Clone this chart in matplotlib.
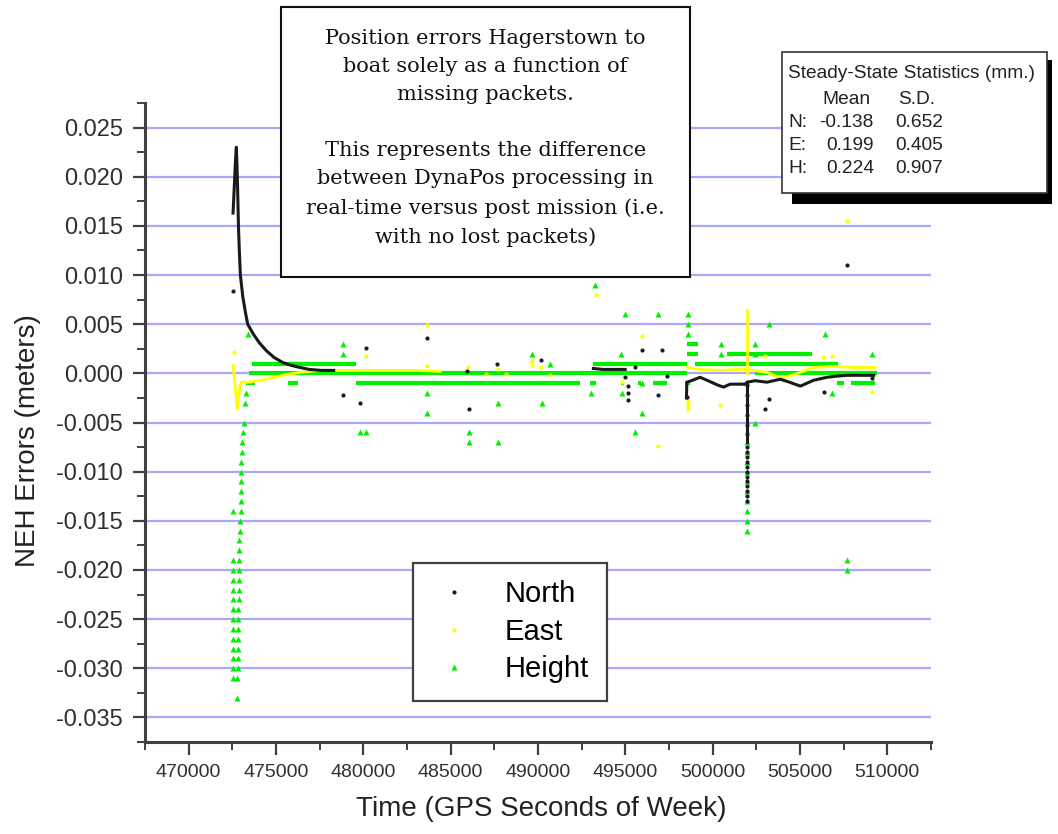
import matplotlib
matplotlib.use('Agg')
import matplotlib.pyplot as plt
import matplotlib.patches as mpatches
from matplotlib.lines import Line2D
from matplotlib.ticker import MultipleLocator, FormatStrFormatter
from matplotlib import font_manager

# ---- North (black) ----
# dense stretches, drawn as lines
n_seg1_x = [472540, 472600, 472650, 472700, 472730, 472760, 472800, 472850, 472900, 472960,
            473100, 473250, 473380, 473700, 474050, 474450, 474900, 475390, 475900, 476360,
            476900, 477600, 478300]
n_seg1_y = [0.0163, 0.0185, 0.0205, 0.0222, 0.0230, 0.0215, 0.0190, 0.0150, 0.0125, 0.0100,
            0.0078, 0.0062, 0.0050, 0.0040, 0.0031, 0.0023, 0.0016, 0.0011, 0.0008, 0.0006,
            0.0004, 0.0003, 0.0003]
n_seg2_x = [493170, 493700, 494300, 494990]
n_seg2_y = [0.0005, 0.0004, 0.0004, 0.0004]
n_seg3_x = [498500, 498520, 498700, 499280, 499800, 500300, 500620, 501000, 501500, 501860,
            501960, 502440, 503110, 503870, 504400, 505020, 505780, 506550, 507000, 507690,
            508500, 509220]
n_seg3_y = [-0.0025, -0.0009, -0.0008, -0.0004, -0.0008, -0.0012, -0.0014, -0.0011, -0.0011, -0.0011,
            -0.0009, -0.00075, -0.0009, -0.0006, -0.0009, -0.0013, -0.0007, -0.0004, -0.0003, -0.0002,
            -0.0002, -0.0002]
n_spike_x = [501960, 501960]
n_spike_y = [-0.0010, -0.0070]
# isolated epochs
n_pts_x = [472560, 480130, 483620, 478850, 479800, 486060, 487670, 490170, 485960, 494990,
           495150, 495150, 495150, 495940, 497120, 495560, 497400, 496850, 498520, 503200,
           503010, 506400, 509120, 507710,
           501960, 501960, 501960, 501960, 501960, 501960, 501960, 501960, 501960, 501960,
           501960, 501960]
n_pts_y = [0.0084, 0.0026, 0.0036, -0.0022, -0.0030, -0.0036, 0.0010, 0.0014, 0.0002, -0.0004,
           -0.0013, -0.0020, -0.0027, 0.0024, 0.0024, 0.0006, -0.0003, -0.0022, -0.0024, -0.0026,
           -0.0036, -0.0019, -0.0005, 0.0110,
           -0.0075, -0.0080, -0.0085, -0.0090, -0.0095, -0.0100, -0.0105, -0.0110, -0.0115, -0.0120,
           -0.0125, -0.0130]

# ---- East (yellow) ----
e_seg1_x = [472540, 472620, 472700, 472760, 472790, 472850, 472950, 473020, 473500, 474450,
            475400, 476360, 477500, 479000, 481000, 483000, 484400]
e_seg1_y = [0.0008, -0.0005, -0.0020, -0.0033, -0.0036, -0.0025, -0.0012, -0.0009, -0.0009, -0.0006,
            -0.0002, 0.0001, 0.0003, 0.0003, 0.0003, 0.0003, 0.0002]
e_seg3_x = [498560, 499200, 500440, 501500, 501960, 503110, 503900, 504500, 505020, 505780,
            506900, 508000, 509300]
e_seg3_y = [0.0006, 0.0004, 0.0003, 0.0004, 0.0004, 0.0001, -0.0005, -0.0002, 0.0001, 0.0006,
            0.0007, 0.0006, 0.0006]
e_spike_x = [501960, 501960]
e_spike_y = [0.0064, 0.0000]
e_pts_x = [472600, 483620, 483620, 480180, 486010, 487730, 489670, 489670, 490170, 487000,
           488150, 490690, 494790, 493330, 495980, 496850, 498560, 498560, 498560, 498560,
           500440, 503010, 506340, 506820, 509120, 507710]
e_pts_y = [0.0022, 0.0049, 0.0007, 0.0018, 0.0006, 0.00045, 0.0013, 0.0008, 0.0006, -0.0001,
           -0.0001, -0.0002, -0.0009, 0.0080, 0.0038, -0.0074, -0.0027, -0.0030, -0.0033, -0.0036,
           -0.0032, 0.0018, 0.0017, 0.0018, -0.0019, 0.0155]

# ---- Height (green), 1 mm steps ----
h_band_y = [0.001, 0.000, -0.001, -0.001, -0.001, 0.001, 0.001, 0.002, 0.002, 0.003,
            0.000, -0.001, -0.001, -0.001, -0.001, -0.001, -0.001, -0.001]
h_band_x0 = [473600, 473450, 473300, 475700, 479600, 493170, 498980, 500810, 498520, 498520,
             502440, 493000, 494740, 495740, 496600, 498440, 507140, 507900]
h_band_x1 = [479600, 498520, 473800, 476270, 492400, 498520, 507200, 505680, 499170, 499170,
             509400, 493300, 494900, 495900, 497400, 498700, 507520, 509300]
h_pts_x = [473400, 473280, 473200, 473170, 473120, 473080, 473050, 473020, 473000, 472990,
           473020, 472990, 472970, 472950, 472920, 472910, 472900, 472890, 472880, 472880,
           472870, 472860, 472850, 472840, 472830, 472820, 472810, 472800, 472800, 472790,
           472790,
           472540, 472540, 472540, 472540, 472540, 472540, 472540, 472540, 472540, 472540,
           472540, 472540, 472540, 472540,
           501960, 501960, 501960, 501960, 501960, 501960, 501960, 501960, 501960, 501960,
           501960, 501960, 501960, 501960, 501960, 501960,
           478850, 478850, 479800, 480180, 483620, 483620, 486060, 486060, 487690, 487690,
           489670, 490690, 490210, 493270, 494990, 494740, 493020, 494790, 495940, 495940,
           495560, 496890, 498560, 498560, 498560, 500460, 500460, 502440, 502440, 502440,
           503200, 506450, 509120, 506820, 507710, 507710]
h_pts_y = [0.004, -0.002, -0.003, -0.005, -0.006, -0.007, -0.008, -0.009, -0.010, -0.011,
           -0.012, -0.013, -0.014, -0.015, -0.016, -0.017, -0.018, -0.019, -0.020, -0.021,
           -0.022, -0.023, -0.024, -0.025, -0.026, -0.027, -0.028, -0.029, -0.030, -0.031,
           -0.033,
           -0.014, -0.019, -0.020, -0.021, -0.022, -0.023, -0.024, -0.025, -0.026, -0.027,
           -0.028, -0.029, -0.030, -0.031,
           -0.001, -0.002, -0.003, -0.004, -0.005, -0.006, -0.007, -0.008, -0.009, -0.010,
           -0.011, -0.012, -0.013, -0.014, -0.015, -0.016,
           0.003, 0.002, -0.006, -0.006, -0.002, -0.004, -0.006, -0.007, -0.003, -0.007,
           0.002, 0.001, -0.003, 0.009, 0.006, 0.002, -0.002, -0.002, -0.001, -0.004,
           -0.006, 0.006, 0.006, 0.005, 0.004, 0.003, 0.002, 0.003, 0.002, -0.005,
           0.005, 0.004, 0.002, -0.002, -0.019, -0.020]

series_names = ['North', 'East', 'Height']
stat_rows = ['N:', 'E:', 'H:']
stat_mean = ['-0.138', '0.199', '0.224']
stat_sd = ['0.652', '0.405', '0.907']

note = ("Position errors Hagerstown to\nboat solely as a function of\nmissing packets.\n\n"
        "This represents the difference\nbetween DynaPos processing in\n"
        "real-time versus post mission (i.e.\nwith no lost packets)")

BLACK = '#1a1a1a'
YELLOW = '#ffff00'
GREEN = '#00f000'
AXC = '#404040'

W, H = 1058, 834


def fpx(x, y):
    return x / W, 1 - y / H


names = {f.name for f in font_manager.fontManager.ttflist}
narrow = 'Liberation Sans Narrow' if 'Liberation Sans Narrow' in names else 'Liberation Sans'
xtick_size = 16 if narrow == 'Liberation Sans Narrow' else 14

plt.rcParams['axes.unicode_minus'] = False
plt.rcParams['font.family'] = ['Liberation Sans', 'DejaVu Sans']

fig = plt.figure(figsize=(W / 100, H / 100), dpi=100)
ax = fig.add_axes([145 / W, 1 - 742 / H, (931 - 145) / W, (742 - 103) / H])

ax.hlines(h_band_y, h_band_x0, h_band_x1, colors=GREEN, lw=3, zorder=2)
ax.plot(h_pts_x, h_pts_y, ls='none', marker='^', ms=4, color=GREEN, mec='none', zorder=2)

for sx, sy in [(e_seg1_x, e_seg1_y), (e_seg3_x, e_seg3_y), (e_spike_x, e_spike_y)]:
    ax.plot(sx, sy, color=YELLOW, lw=2, zorder=3)
ax.plot(e_pts_x, e_pts_y, ls='none', marker='o', ms=3, color=YELLOW, mec='none', zorder=3)

for sx, sy in [(n_seg1_x, n_seg1_y), (n_seg2_x, n_seg2_y), (n_seg3_x, n_seg3_y), (n_spike_x, n_spike_y)]:
    ax.plot(sx, sy, color=BLACK, lw=2.2, zorder=4)
ax.plot(n_pts_x, n_pts_y, ls='none', marker='o', ms=3, color=BLACK, mec='none', zorder=4)

ax.set_xlim(467500, 512500)
ax.set_ylim(-0.0375, 0.0275)
ax.xaxis.set_major_locator(MultipleLocator(5000))
ax.xaxis.set_minor_locator(MultipleLocator(2500))
ax.yaxis.set_major_locator(MultipleLocator(0.005))
ax.yaxis.set_minor_locator(MultipleLocator(0.0025))
ax.xaxis.set_major_formatter(FormatStrFormatter('%d'))
ax.yaxis.set_major_formatter(FormatStrFormatter('%.3f'))

ax.yaxis.grid(True, which='major', color='#a8a8ff', lw=1.6)
ax.set_axisbelow(True)
for side in ['top', 'right']:
    ax.spines[side].set_visible(False)
for side in ['left', 'bottom']:
    ax.spines[side].set_linewidth(2.2)
    ax.spines[side].set_color(AXC)

ax.tick_params(which='major', direction='out', length=9, width=1.6, color=AXC, labelcolor='#303030')
ax.tick_params(which='minor', direction='out', length=6, width=1.4, color=AXC)
ax.tick_params(axis='y', labelsize=17, pad=7)
ax.tick_params(axis='x', pad=7)
for lab in ax.get_xticklabels():
    lab.set_fontfamily(narrow)
    lab.set_fontsize(xtick_size)

fig.text(*fpx(28, 441), 'NEH Errors (meters)', rotation=90, ha='center', va='center',
         fontsize=20, color='#222222')
fig.text(*fpx(541, 809), 'Time (GPS Seconds of Week)', ha='center', va='center',
         fontsize=20, color='#222222')

handles = [Line2D([], [], ls='none', marker='o', ms=3, color=BLACK, mec='none'),
           Line2D([], [], ls='none', marker='o', ms=3, color=YELLOW, mec='none'),
           Line2D([], [], ls='none', marker='^', ms=4, color=GREEN, mec='none')]
leg = ax.legend(handles, series_names, loc='upper left', bbox_to_anchor=fpx(413, 563),
                bbox_transform=fig.transFigure, fontsize=21, frameon=True, fancybox=False,
                edgecolor=AXC, framealpha=1, borderpad=0.6, handlelength=1.6,
                handletextpad=0.95, labelspacing=0.32, borderaxespad=0)
leg.get_frame().set_linewidth(1.6)
leg.set_zorder(10)

# note box over the top of the plot
x0, y0 = fpx(281, 277)
x1, y1 = fpx(690, 7)
fig.patches.append(mpatches.Rectangle((x0, y0), x1 - x0, y1 - y0, transform=fig.transFigure,
                                      facecolor='white', edgecolor='#111111', lw=1.5, zorder=5))
fig.text(*fpx(485.5, 138), note, ha='center', va='center', multialignment='center',
         family='DejaVu Serif', fontsize=15, linespacing=1.6, color='#111111', zorder=6)

# statistics box with drop shadow
sx0, sy0 = fpx(792, 204)
sx1, sy1 = fpx(1052, 60)
fig.patches.append(mpatches.Rectangle((sx0, sy0), sx1 - sx0, sy1 - sy0, transform=fig.transFigure,
                                      facecolor='black', edgecolor='none', zorder=5))
bx0, by0 = fpx(782, 193)
bx1, by1 = fpx(1047, 52)
fig.patches.append(mpatches.Rectangle((bx0, by0), bx1 - bx0, by1 - by0, transform=fig.transFigure,
                                      facecolor='white', edgecolor='#333333', lw=1.2, zorder=6))
fs = 13.8
fig.text(*fpx(788, 74), 'Steady-State Statistics (mm.)', ha='left', va='center', fontsize=fs,
         color='#222222', zorder=7)
fig.text(*fpx(846, 99), 'Mean', ha='center', va='center', fontsize=fs, color='#222222', zorder=7)
fig.text(*fpx(917, 99), 'S.D.', ha='center', va='center', fontsize=fs, color='#222222', zorder=7)
for i, (r, m, s) in enumerate(zip(stat_rows, stat_mean, stat_sd)):
    yy = 122.5 + i * 23
    fig.text(*fpx(788, yy), r, ha='left', va='center', fontsize=fs, color='#222222', zorder=7)
    fig.text(*fpx(874, yy), m, ha='right', va='center', fontsize=fs, color='#222222', zorder=7)
    fig.text(*fpx(943, yy), s, ha='right', va='center', fontsize=fs, color='#222222', zorder=7)

fig.savefig('out.png', dpi=100)
